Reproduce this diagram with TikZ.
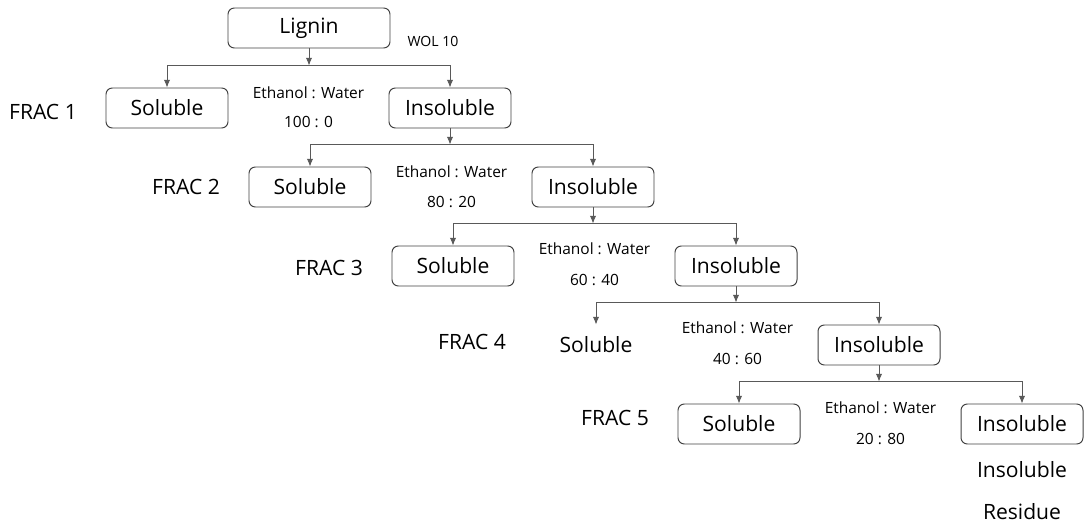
\documentclass[tikz,border=0pt]{standalone}
\usepackage{fontspec}
\setmainfont{Open Sans}
\usepackage{tikz}
\usetikzlibrary{calc,arrows.meta}

\tikzset{
	box/.style={draw=black!75, line width=0.7pt, rounded corners=4.5pt, minimum width=3.05cm, minimum height=1cm, inner sep=0pt, font=\fontsize{15}{18}\selectfont},
	frac/.style={font=\fontsize{15}{18}\selectfont},
	ratio/.style={font=\fontsize{11}{13}\selectfont},
	note/.style={font=\fontsize{10}{12}\selectfont},
	link/.style={draw=black!65, line width=0.6pt}
}

\begin{document}
\begin{tikzpicture}[>={Latex[length=5.5pt,width=4.5pt]}]
	%\draw [help lines] (0,0) grid (27,13);
	\useasboundingbox (0,0) rectangle (27.1,13.25);
	\node [box, minimum width=4.05cm] (lignin) at (7.725,12.55) {Lignin};
	\node [note] (wol) at (10.825,12.225) {WOL 10};

	% FRAC 1
	\node [box] (sol1) at (4.175,10.55) {Soluble};
	\node [box] (ins1) at (11.25,10.55) {Insoluble};
	\node [frac] (frac1) at (1.075,10.45) {FRAC 1};
	\node [ratio] (eth1) at (7.7125,10.92) {Ethanol : Water};
	\node [ratio] (mix1) at (7.7125,10.2) {100 : 0};
	\coordinate (top1) at ($(sol1.north)+(0,0.55)$);
	\draw [link, ->] (lignin) -- (lignin |- top1);
	\draw [link, ->] (top1) -- (sol1);
	\draw [link, ->] (top1) -| (ins1);

	% FRAC 2
	\node [box] (sol2) at (7.75,8.575) {Soluble};
	\node [box] (ins2) at (14.825,8.575) {Insoluble};
	\node [frac] (frac2) at (4.65,8.575) {FRAC 2};
	\node [ratio] (eth2) at (11.2875,8.96) {Ethanol : Water};
	\node [ratio] (mix2) at (11.2875,8.2) {80 : 20};
	\coordinate (top2) at ($(sol2.north)+(0,0.55)$);
	\draw [link, ->] (ins1) -- (ins1 |- top2);
	\draw [link, ->] (top2) -- (sol2);
	\draw [link, ->] (top2) -| (ins2);

	% FRAC 3
	\node [box] (sol3) at (11.325,6.6) {Soluble};
	\node [box] (ins3) at (18.4,6.6) {Insoluble};
	\node [frac] (frac3) at (8.225,6.55) {FRAC 3};
	\node [ratio] (eth3) at (14.8625,7.02) {Ethanol : Water};
	\node [ratio] (mix3) at (14.8625,6.25) {60 : 40};
	\coordinate (top3) at ($(sol3.north)+(0,0.55)$);
	\draw [link, ->] (ins2) -- (ins2 |- top3);
	\draw [link, ->] (top3) -- (sol3);
	\draw [link, ->] (top3) -| (ins3);

	% FRAC 4
	\node [box, draw=none] (sol4) at (14.9,4.625) {Soluble};
	\node [box] (ins4) at (21.975,4.625) {Insoluble};
	\node [frac] (frac4) at (11.8,4.7) {FRAC 4};
	\node [ratio] (eth4) at (18.4375,5.05) {Ethanol : Water};
	\node [ratio] (mix4) at (18.4375,4.28) {40 : 60};
	\coordinate (top4) at ($(sol4.north)+(0,0.55)$);
	\draw [link, ->] (ins3) -- (ins3 |- top4);
	\draw [link, ->] (top4) -- (sol4);
	\draw [link, ->] (top4) -| (ins4);

	% FRAC 5
	\node [box] (sol5) at (18.475,2.65) {Soluble};
	\node [box] (ins5) at (25.55,2.65) {Insoluble};
	\node [frac] (frac5) at (15.375,2.8) {FRAC 5};
	\node [ratio] (eth5) at (22.0125,3.05) {Ethanol : Water};
	\node [ratio] (mix5) at (22.0125,2.28) {20 : 80};
	\coordinate (top5) at ($(sol5.north)+(0,0.55)$);
	\draw [link, ->] (ins4) -- (ins4 |- top5);
	\draw [link, ->] (top5) -- (sol5);
	\draw [link, ->] (top5) -| (ins5);

	\node [frac] (res1) at (25.55,1.5) {Insoluble};
	\node [frac] (res2) at (25.55,0.45) {Residue};
\end{tikzpicture}
\end{document}
